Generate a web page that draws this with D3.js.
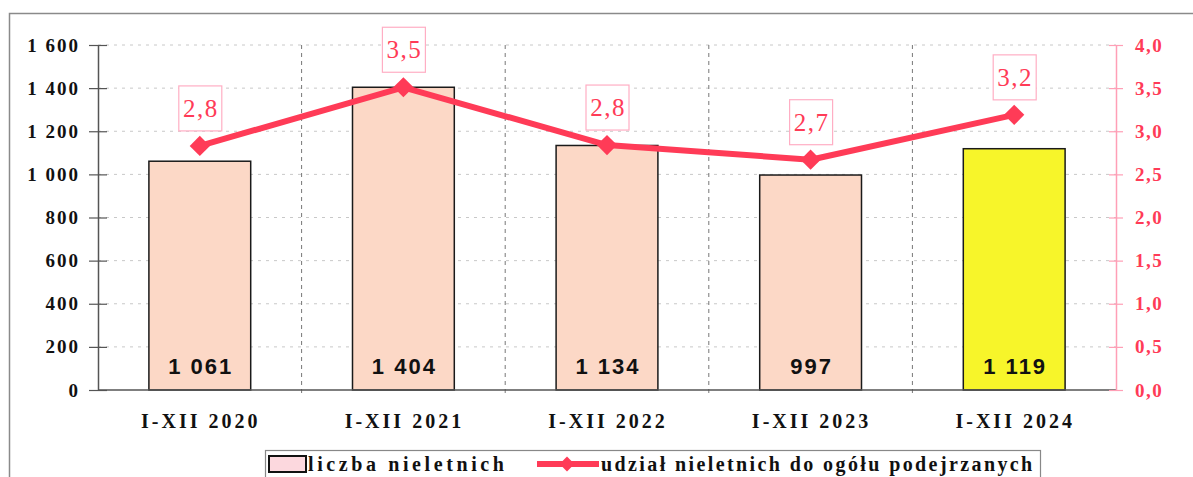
<!DOCTYPE html>
<html>
<head>
<meta charset="utf-8">
<script src="https://cdn.jsdelivr.net/npm/d3@7"></script>
<style>
  body { margin: 0; background: #fff; }
  svg { display: block; }
</style>
</head>
<body>
<div id="chart"></div>
<script>
// data
const categories = ['I-XII 2020', 'I-XII 2021', 'I-XII 2022', 'I-XII 2023', 'I-XII 2024'];
const juveniles = [1061, 1404, 1134, 997, 1119];
const shares = [2.83, 3.51, 2.84, 2.67, 3.19];
const leftTicks = [0, 200, 400, 600, 800, 1000, 1200, 1400, 1600];
const rightTicks = [0, 0.5, 1, 1.5, 2, 2.5, 3, 3.5, 4];
const legendLabels = ['liczba nieletnich', 'udział nieletnich do ogółu podejrzanych'];

const width = 1193, height = 477;
const margin = { top: 45, left: 98, right: 77, bottom: 87 };
const adjWidth = width - margin.left - margin.right;
const adjHeight = height - margin.top - margin.bottom;

const red = '#ff3b57';
const serif = '"Liberation Serif", "Times New Roman", serif';
const sans = '"Liberation Sans", Arial, sans-serif';

const svg = d3.select('#chart').append('svg')
  .attr('width', width)
  .attr('height', height);

// outer frame
svg.append('path')
  .attr('d', 'M9.5,' + height + ' V13.5 H' + width)
  .attr('fill', 'none')
  .attr('stroke', '#8a8a8a')
  .attr('stroke-width', 1.5);

const g = svg.append('g')
  .attr('transform', 'translate(' + margin.left + ',' + margin.top + ')');

const x = d3.scaleBand().domain(categories).range([0, adjWidth]).paddingInner(0.5).paddingOuter(0.25);
const band = d3.scaleBand().domain(categories).range([0, adjWidth]);
const y = d3.scaleLinear().domain([0, 1600]).range([adjHeight, 0]);
const y2 = d3.scaleLinear().domain([0, 4]).range([adjHeight, 0]);

// horizontal grid
g.append('g')
  .selectAll('line')
  .data(leftTicks.slice(1))
  .enter()
  .append('line')
  .attr('x1', 0)
  .attr('x2', adjWidth)
  .attr('y1', d => y(d))
  .attr('y2', d => y(d))
  .attr('stroke', '#c8c8c8')
  .attr('stroke-width', 1)
  .attr('stroke-dasharray', '3,5');

// vertical separators
g.append('g')
  .selectAll('line')
  .data(categories.slice(1))
  .enter()
  .append('line')
  .attr('x1', d => band(d))
  .attr('x2', d => band(d))
  .attr('y1', 0)
  .attr('y2', adjHeight + 7)
  .attr('stroke', '#777')
  .attr('stroke-width', 1)
  .attr('stroke-dasharray', '4,4');

// bars
g.append('g')
  .selectAll('rect')
  .data(juveniles)
  .enter()
  .append('rect')
  .attr('x', (d, i) => x(categories[i]))
  .attr('y', d => y(d))
  .attr('width', x.bandwidth())
  .attr('height', d => adjHeight - y(d))
  .attr('fill', (d, i) => i === 4 ? '#f7f52a' : '#fcd8c6')
  .attr('stroke', '#1a1a1a')
  .attr('stroke-width', 1.5);

const fmtInt = v => d3.format(',')(v).replace(/,/g, ' ');

g.append('g')
  .selectAll('text')
  .data(juveniles)
  .enter()
  .append('text')
  .attr('x', (d, i) => x(categories[i]) + x.bandwidth() / 2 + 1)
  .attr('y', y(0) - 16)
  .attr('text-anchor', 'middle')
  .attr('font-family', sans)
  .attr('font-weight', 'bold')
  .attr('font-size', 22)
  .attr('letter-spacing', 2)
  .attr('fill', '#111')
  .text(fmtInt);

// left axis
const yAxis = g.append('g')
  .call(d3.axisLeft(y).tickValues(leftTicks).tickSize(0).tickPadding(18)
    .tickFormat(d => fmtInt(d)));
yAxis.select('.domain').attr('stroke', '#555').attr('stroke-width', 1.5);
yAxis.selectAll('text')
  .attr('font-family', serif)
  .attr('font-weight', 'bold')
  .attr('font-size', 19)
  .attr('letter-spacing', 2)
  .attr('fill', '#111');
yAxis.selectAll('.tick').append('line')
  .attr('x1', -9).attr('x2', 9)
  .attr('stroke', '#555').attr('stroke-width', 1.2);

// x axis baseline
g.append('line')
  .attr('x1', 0).attr('x2', adjWidth)
  .attr('y1', adjHeight).attr('y2', adjHeight)
  .attr('stroke', '#555').attr('stroke-width', 1.5);

// right axis
const y2Axis = g.append('g')
  .attr('transform', 'translate(' + adjWidth + ',0)')
  .call(d3.axisRight(y2).tickValues(rightTicks).tickSize(0).tickPadding(19)
    .tickFormat(d => d3.format('.1f')(d).replace('.', ',')));
y2Axis.select('.domain').attr('stroke', '#ff9fb6').attr('stroke-width', 1.5);
y2Axis.selectAll('text')
  .attr('font-family', serif)
  .attr('font-weight', 'bold')
  .attr('font-size', 19)
  .attr('letter-spacing', 1.5)
  .attr('fill', red);
y2Axis.selectAll('.tick').append('line')
  .attr('x1', -7).attr('x2', 7)
  .attr('stroke', '#ff9fb6').attr('stroke-width', 1.2);

// category labels
g.append('g')
  .selectAll('text')
  .data(categories)
  .enter()
  .append('text')
  .attr('x', d => x(d) + x.bandwidth() / 2 + 1)
  .attr('y', adjHeight + 38)
  .attr('text-anchor', 'middle')
  .attr('font-family', serif)
  .attr('font-weight', 'bold')
  .attr('font-size', 20)
  .attr('letter-spacing', 3)
  .attr('fill', '#111')
  .text(d => d);

// share line
const cx = (d, i) => x(categories[i]) + x.bandwidth() / 2;
const line = d3.line()
  .x(cx)
  .y(d => y2(d));

g.append('path')
  .attr('d', line(shares))
  .attr('fill', 'none')
  .attr('stroke', red)
  .attr('stroke-width', 6)
  .attr('stroke-linejoin', 'round');

g.append('g')
  .selectAll('path')
  .data(shares)
  .enter()
  .append('path')
  .attr('d', d3.symbol().type(d3.symbolDiamond2).size(260))
  .attr('transform', (d, i) => 'translate(' + cx(d, i) + ',' + y2(d) + ')')
  .attr('fill', red);

// share labels in boxes
const lbl = g.append('g')
  .selectAll('g')
  .data(shares)
  .enter()
  .append('g')
  .attr('transform', (d, i) => 'translate(' + cx(d, i) + ',' + (y2(d) - 38) + ')');

lbl.append('rect')
  .attr('x', -21).attr('y', -22)
  .attr('width', 43).attr('height', 45)
  .attr('fill', '#fff')
  .attr('stroke', '#ffaec4')
  .attr('stroke-width', 1.2);

lbl.append('text')
  .attr('x', 1)
  .attr('y', 9)
  .attr('text-anchor', 'middle')
  .attr('font-family', serif)
  .attr('font-size', 25)
  .attr('letter-spacing', 1.5)
  .attr('fill', red)
  .text(d => d3.format('.1f')(d).replace('.', ','));

// legend
const leg = svg.append('g').attr('transform', 'translate(265,450)');
leg.append('rect')
  .attr('x', 0.5).attr('y', 0.5)
  .attr('width', 775).attr('height', 40)
  .attr('fill', '#fff')
  .attr('stroke', '#888')
  .attr('stroke-width', 1.2);
leg.append('rect')
  .attr('x', 4).attr('y', 6)
  .attr('width', 37).attr('height', 16)
  .attr('fill', '#fcd8de')
  .attr('stroke', '#111')
  .attr('stroke-width', 2);
leg.append('line')
  .attr('x1', 272).attr('x2', 334)
  .attr('y1', 14).attr('y2', 14)
  .attr('stroke', red).attr('stroke-width', 6);
leg.append('path')
  .attr('d', d3.symbol().type(d3.symbolDiamond2).size(140))
  .attr('transform', 'translate(302,14)')
  .attr('fill', red);
leg.selectAll('text.lbl')
  .data(legendLabels)
  .enter()
  .append('text')
  .attr('class', 'lbl')
  .attr('x', (d, i) => i === 0 ? 43 : 336)
  .attr('y', 21)
  .attr('font-family', serif)
  .attr('font-weight', 'bold')
  .attr('font-size', 20)
  .attr('letter-spacing', (d, i) => i === 0 ? 3.6 : 2.4)
  .attr('fill', '#111')
  .text(d => d);
</script>
</body>
</html>
